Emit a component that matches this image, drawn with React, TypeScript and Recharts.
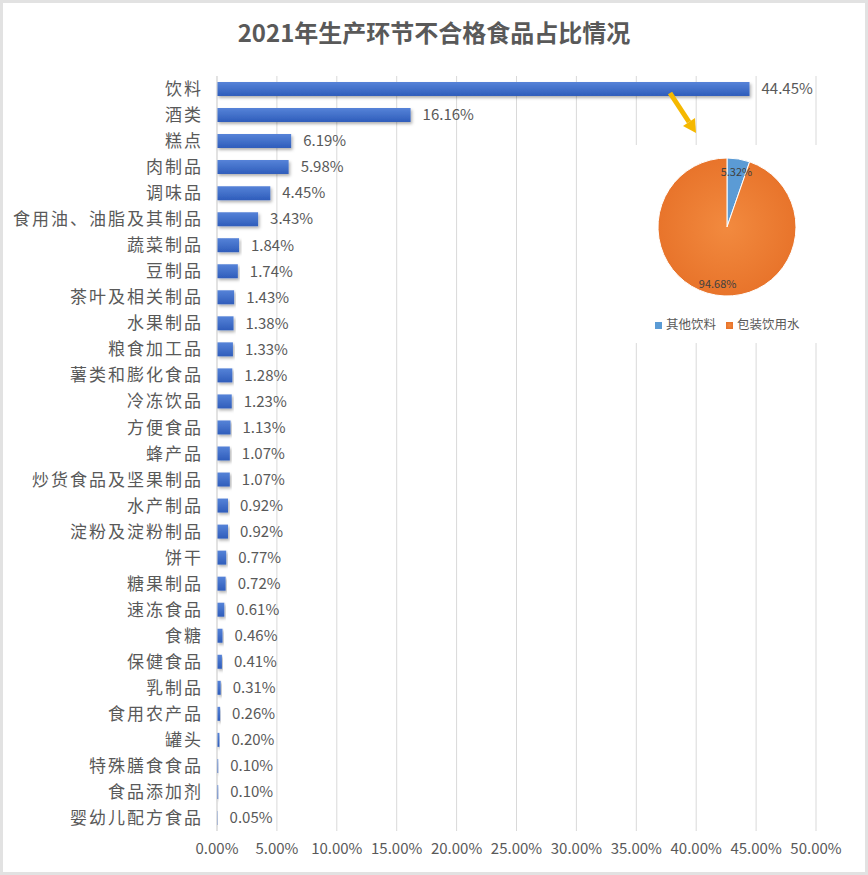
import React from 'react'
import {
  BarChart, Bar, XAxis, YAxis, CartesianGrid, LabelList,
  PieChart, Pie, Cell, Legend,
} from 'recharts'

const categories = [
  '饮料', '酒类', '糕点', '肉制品', '调味品', '食用油、油脂及其制品', '蔬菜制品', '豆制品',
  '茶叶及相关制品', '水果制品', '粮食加工品', '薯类和膨化食品', '冷冻饮品', '方便食品', '蜂产品',
  '炒货食品及坚果制品', '水产制品', '淀粉及淀粉制品', '饼干', '糖果制品', '速冻食品', '食糖',
  '保健食品', '乳制品', '食用农产品', '罐头', '特殊膳食食品', '食品添加剂', '婴幼儿配方食品',
]
const shares = [
  44.45, 16.16, 6.19, 5.98, 4.45, 3.43, 1.84, 1.74, 1.43, 1.38, 1.33, 1.28, 1.23, 1.13, 1.07,
  1.07, 0.92, 0.92, 0.77, 0.72, 0.61, 0.46, 0.41, 0.31, 0.26, 0.20, 0.10, 0.10, 0.05,
]
const xTicks = [0, 5, 10, 15, 20, 25, 30, 35, 40, 45, 50]

const drinkNames = ['其他饮料', '包装饮用水']
const drinkShares = [5.32, 94.68]
const drinkColors = ['#5B9BD5', 'url(#pieOrange)']
const legendColors = ['#5B9BD5', '#ED7D31']

const rows = categories.map((name, i) => ({ name, value: shares[i] }))
const drinkRows = drinkNames.map((name, i) => ({ name, value: drinkShares[i] }))

const FONT = '"Noto Sans CJK SC", "Noto Sans", sans-serif'
const pct = (v: number) => `${v.toFixed(2)}%`

const PieLabel = ({ cx, cy, midAngle, outerRadius, value }: any) => {
  const r = outerRadius * 0.82
  const a = (-midAngle * Math.PI) / 180
  return (
    <text x={cx + r * Math.cos(a)} y={cy + r * Math.sin(a)} textAnchor="middle"
      dominantBaseline="central" fontSize={11} fill="#404040" fontFamily={FONT}>
      {pct(value)}
    </text>
  )
}

export default function App() {
  return (
    <div style={{ position: 'absolute', left: 0, top: 0, width: 868, height: 875, background: '#fff', fontFamily: FONT }}>
      <div style={{
        position: 'absolute', left: 0, top: 14, width: 868, textAlign: 'center',
        fontSize: 24, fontWeight: 'bold', color: '#595959', lineHeight: '36px',
      }}>
        2021年生产环节不合格食品占比情况
      </div>

      <div style={{ position: 'absolute', left: 0, top: 0 }}>
        <BarChart width={868} height={875} data={rows} layout="vertical"
          margin={{ top: 76, right: 52, left: 0, bottom: 14 }}>
          <defs>
            <linearGradient id="barBlue" x1="0" y1="0" x2="0" y2="1">
              <stop offset="0%" stopColor="#5683d8" />
              <stop offset="100%" stopColor="#2f5dbb" />
            </linearGradient>
            <filter id="barShadow" x="-5%" y="-40%" width="115%" height="200%">
              <feDropShadow dx="1.5" dy="2" stdDeviation="1.5" floodColor="#000" floodOpacity="0.3" />
            </filter>
          </defs>
          <CartesianGrid horizontal={false} stroke="#d9d9d9" />
          <XAxis type="number" domain={[0, 50]} ticks={xTicks} tickFormatter={pct}
            axisLine={false} tickLine={false} height={30} tickMargin={6}
            tick={{ fontSize: 15, fill: '#595959', fontFamily: FONT }} />
          <YAxis type="category" dataKey="name" width={217} interval={0}
            axisLine={{ stroke: '#d9d9d9' }} tickLine={false} tickMargin={8}
            tick={{ fontSize: 17, fill: '#595959', fontFamily: FONT, letterSpacing: 2 }} />
          <Bar dataKey="value" barSize={14} fill="url(#barBlue)" filter="url(#barShadow)" isAnimationActive={false}>
            <LabelList dataKey="value" position="right" offset={12} formatter={(v: any) => pct(Number(v))}
              style={{ fontSize: 15, fill: '#595959', fontFamily: FONT }} />
          </Bar>
        </BarChart>
      </div>

      <svg width={868} height={875} style={{ position: 'absolute', left: 0, top: 0, pointerEvents: 'none' }}>
        <line x1={670} y1={93} x2={689} y2={122} stroke="#F5B800" strokeWidth={5} />
        <polygon points="683,126 695,118 696,133" fill="#F5B800" />
      </svg>

      <div style={{ position: 'absolute', left: 632, top: 145, width: 218, height: 198, background: '#fff' }}>
        <PieChart width={218} height={198} margin={{ top: 0, right: 0, bottom: 0, left: 0 }}>
          <defs>
            <radialGradient id="pieOrange" cx="50%" cy="50%" r="50%">
              <stop offset="0%" stopColor="#F28A3F" />
              <stop offset="100%" stopColor="#E8742B" />
            </radialGradient>
          </defs>
          <Pie data={drinkRows} dataKey="value" nameKey="name" cx={95} cy={82} outerRadius={69}
            startAngle={90} endAngle={-270} stroke="#fff" strokeWidth={1}
            label={PieLabel} labelLine={false} isAnimationActive={false}>
            {drinkRows.map((d, i) => <Cell key={d.name} fill={drinkColors[i]} />)}
          </Pie>
          <Legend verticalAlign="bottom" align="left" iconType="square" iconSize={7}
            wrapperStyle={{ left: 23, bottom: 10, fontSize: 12.5 }}
            payload={drinkNames.map((n, i) => ({ value: n, type: 'square', color: legendColors[i] }))}
            formatter={(v: any) => <span style={{ color: '#595959' }}>{v}</span>} />
        </PieChart>
      </div>

      <div style={{
        position: 'absolute', left: 0, top: 0, width: 868, height: 875, boxSizing: 'border-box',
        border: '3px solid #e2e2e2', pointerEvents: 'none',
      }} />
    </div>
  )
}
